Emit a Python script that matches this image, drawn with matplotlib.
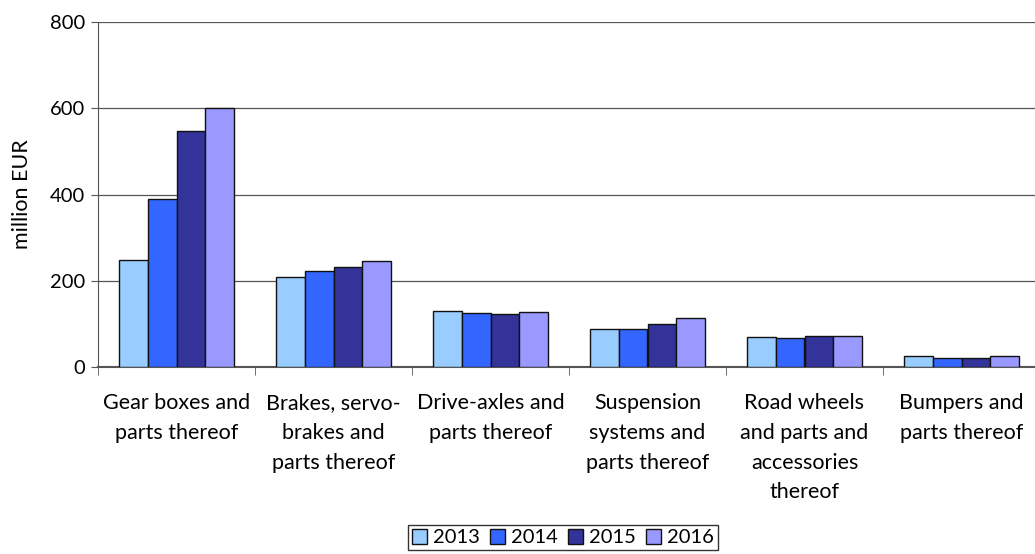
import numpy as np
import matplotlib.pyplot as plt
from matplotlib.patches import Patch

plt.rcParams['font.family'] = ['Lato', 'DejaVu Sans']

categories = ['Gear boxes and\nparts thereof',
              'Brakes, servo-\nbrakes and\nparts thereof',
              'Drive-axles and\nparts thereof',
              'Suspension\nsystems and\nparts thereof',
              'Road wheels\nand parts and\naccessories\nthereof',
              'Bumpers and\nparts thereof']
years = ['2013', '2014', '2015', '2016']
v2013 = [248, 208, 131, 87, 69, 25]
v2014 = [390, 222, 126, 87, 67, 20]
v2015 = [548, 233, 122, 100, 72, 22]
v2016 = [600, 246, 128, 113, 73, 26]
colors = ['#99CCFF', '#3366FF', '#333399', '#9999FF']

fig = plt.figure(figsize=(10.35, 5.54), dpi=100)
ax = fig.add_axes([98 / 1035, 1 - 367 / 554, 942 / 1035, 345 / 554])

x = np.arange(len(categories))
w = 0.182
series = [v2013, v2014, v2015, v2016]
for i, vals in enumerate(series):
    ax.bar(x + (i - 1.5) * w, vals, width=w, color=colors[i],
           edgecolor='#111111', linewidth=1.0, zorder=3)

ax.set_xlim(-0.5, len(categories) - 0.5)
ax.set_ylim(0, 800)
ax.set_yticks([0, 200, 400, 600, 800])
ax.tick_params(axis='y', labelsize=14.5, length=5, color='#555555', pad=4)
ax.yaxis.grid(True, color='#555555', linewidth=0.9, zorder=0)
ax.set_axisbelow(True)

ax.set_xticks(x)
ax.set_xticklabels(categories, fontsize=15.5, linespacing=1.6, va='top')
ax.tick_params(axis='x', length=0, pad=19)
ax.set_xticks(np.arange(len(categories) + 1) - 0.5, minor=True)
ax.tick_params(axis='x', which='minor', length=6, color='#555555')

for s in ['top', 'right']:
    ax.spines[s].set_visible(False)
ax.spines['left'].set_color('#555555')
ax.spines['bottom'].set_color('#555555')
ax.spines['bottom'].set_linewidth(1.5)

ax.set_ylabel('million EUR', fontsize=15.5, labelpad=13)

handles = [Patch(facecolor=c, edgecolor='#111111', linewidth=1.0) for c in colors]
fig.legend(handles, years, loc='upper center', bbox_to_anchor=(563 / 1035, 1 - 525 / 554),
           ncol=4, fontsize=14.5, frameon=True, fancybox=False, edgecolor='#000000',
           handlelength=0.75, handleheight=0.75, handletextpad=0.3, columnspacing=0.5,
           borderpad=0.2, borderaxespad=0)

fig.savefig('out.png', dpi=100)
